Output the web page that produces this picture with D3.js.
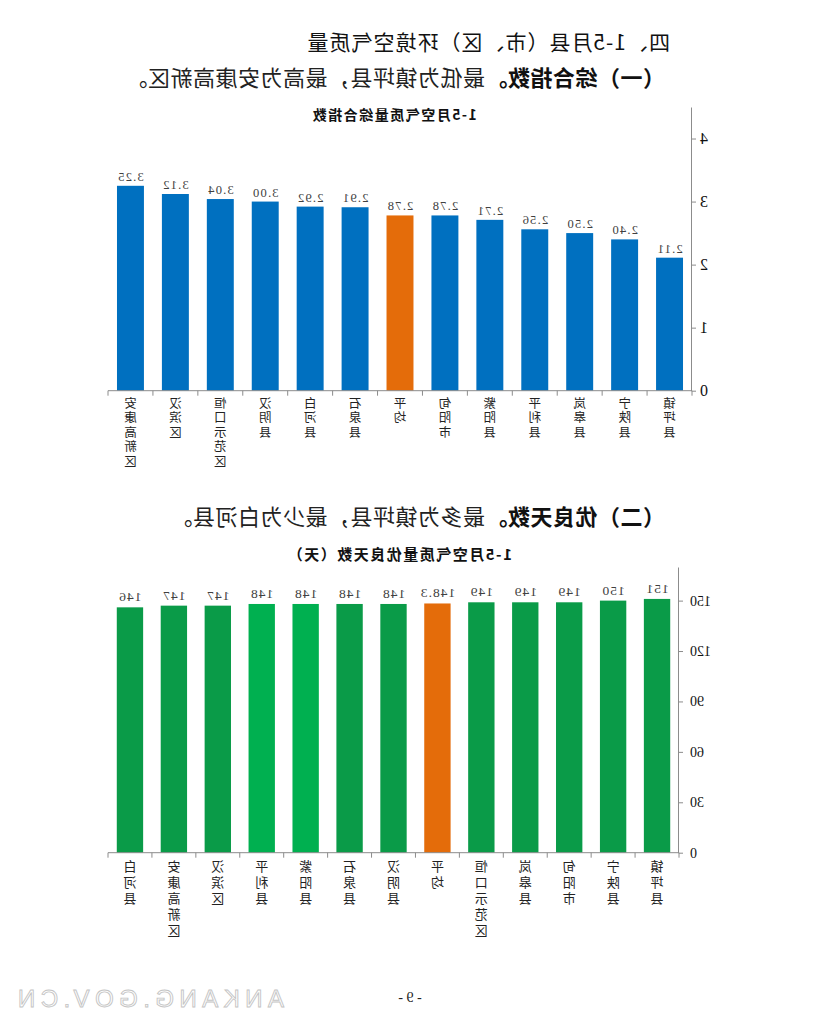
<!DOCTYPE html>
<html>
<head>
<meta charset="utf-8">
<script src="https://cdn.jsdelivr.net/npm/d3@7"></script>
<style>
  body { margin: 0; background: #fff; }
  svg { display: block; }
</style>
</head>
<body>
<div id="page"></div>
<script>
// dati: indice composito (gennaio-maggio)
var indexCats = ["镇坪县", "宁陕县", "岚皋县", "平利县", "紫阳县", "旬阳市", "平均", "石泉县", "白河县", "汉阴县", "恒口示范区", "汉滨区", "安康高新区"];
var indexVals = [2.11, 2.40, 2.50, 2.56, 2.71, 2.78, 2.78, 2.91, 2.92, 3.00, 3.04, 3.12, 3.25];
var indexTicks = [0, 1, 2, 3, 4];

// dati: giorni di buona qualità dell'aria
var daysCats = ["镇坪县", "宁陕县", "旬阳市", "岚皋县", "恒口示范区", "平均", "汉阴县", "石泉县", "紫阳县", "平利县", "汉滨区", "安康高新区", "白河县"];
var daysVals = [151, 150, 149, 149, 149, 148.3, 148, 148, 148, 148, 147, 147, 146];
var daysTicks = [0, 30, 60, 90, 120, 150];

var W = 827, H = 1025;
var cjk = "'Noto Sans CJK SC', 'Noto Sans', sans-serif";
var serif = "'Liberation Serif', 'DejaVu Serif', serif";

var svg = d3.select("#page").append("svg")
  .attr("width", W)
  .attr("height", H);

// la pagina di riferimento è specchiata orizzontalmente
var root = svg.append("g")
  .attr("transform", "translate(" + W + ",0) scale(-1,1)");

// titoli
root.append("text")
  .attr("x", 157).attr("y", 50)
  .attr("font-family", cjk).attr("font-size", 21)
  .attr("letter-spacing", 1)
  .attr("fill", "#111")
  .text("四、1-5月县（市、区）环境空气质量");

function subHeading(y, boldPart, rest) {
  var t = root.append("text")
    .attr("x", 162).attr("y", y)
    .attr("font-family", cjk).attr("font-size", 22)
    .attr("letter-spacing", 0.5)
    .attr("fill", "#111");
  t.append("tspan").attr("font-weight", "bold").text(boldPart);
  t.append("tspan").attr("fill", "#222").text(rest);
}
subHeading(86, "（一）综合指数。", "最低为镇坪县，最高为安康高新区。");
subHeading(525, "（二）优良天数。", "最多为镇坪县，最少为白河县。");

// funzione generica per disegnare un grafico a barre
function drawBars(opt) {
  var g = root.append("g");

  var x = d3.scaleBand()
    .domain(opt.cats)
    .range([opt.left, opt.right])
    .paddingInner(0.4)
    .paddingOuter(0.2);

  var y = d3.scaleLinear()
    .domain([0, opt.max])
    .range([opt.bottom, opt.top]);

  g.append("text")
    .attr("x", opt.titleX).attr("y", opt.titleY)
    .attr("text-anchor", "middle")
    .attr("font-family", cjk).attr("font-size", opt.titleSize)
    .attr("letter-spacing", 1.5)
    .attr("font-weight", "bold")
    .attr("fill", "#111")
    .text(opt.title);

  // barre
  g.selectAll("rect.bar")
    .data(opt.vals)
    .enter()
    .append("rect")
    .attr("class", "bar")
    .attr("x", function (d, i) { return x(opt.cats[i]); })
    .attr("y", function (d) { return y(d); })
    .attr("width", x.bandwidth())
    .attr("height", function (d) { return y(0) - y(d); })
    .attr("fill", function (d, i) { return opt.color(opt.cats[i]); });

  // etichette dei valori
  g.selectAll("text.val")
    .data(opt.vals)
    .enter()
    .append("text")
    .attr("class", "val")
    .attr("x", function (d, i) { return x(opt.cats[i]) + x.bandwidth() / 2; })
    .attr("y", function (d) { return y(d) - opt.valGap; })
    .attr("text-anchor", "middle")
    .attr("font-family", serif)
    .attr("font-size", opt.valSize)
    .attr("letter-spacing", opt.valSpacing)
    .attr("fill", "#404040")
    .text(function (d) { return opt.fmt(d); });

  // asse y
  var yAxis = g.append("g")
    .attr("transform", "translate(" + opt.left + ",0)")
    .call(d3.axisLeft(y)
      .tickValues(opt.ticks)
      .tickSize(4)
      .tickSizeOuter(0)
      .tickPadding(opt.tickPad)
      .tickFormat(d3.format("d")));
  yAxis.select(".domain").attr("stroke", "#8c8c8c");
  yAxis.selectAll(".tick line").attr("stroke", "#8c8c8c");
  yAxis.selectAll(".tick text")
    .attr("font-family", serif)
    .attr("font-size", opt.tickSize)
    .attr("fill", "#111");

  // asse x: linea di base e tacche tra le categorie
  g.append("line")
    .attr("x1", opt.left).attr("x2", opt.right)
    .attr("y1", y(0)).attr("y2", y(0))
    .attr("stroke", "#8c8c8c");
  g.selectAll("line.sep")
    .data(d3.range(opt.cats.length + 1))
    .enter()
    .append("line")
    .attr("class", "sep")
    .attr("x1", function (i) { return opt.left + i * x.step(); })
    .attr("x2", function (i) { return opt.left + i * x.step(); })
    .attr("y1", y(0)).attr("y2", y(0) + 5)
    .attr("stroke", "#8c8c8c");

  // nomi delle categorie in verticale, un carattere per riga
  var labels = g.selectAll("text.cat")
    .data(opt.cats)
    .enter()
    .append("text")
    .attr("class", "cat")
    .attr("text-anchor", "middle")
    .attr("font-family", cjk)
    .attr("font-size", opt.catSize)
    .attr("fill", "#222");
  labels.each(function (name) {
    var el = d3.select(this);
    var cx = x(name) + x.bandwidth() / 2;
    name.split("").forEach(function (ch, k) {
      el.append("tspan")
        .attr("x", cx)
        .attr("y", y(0) + opt.catFirst + k * opt.catLine)
        .text(ch);
    });
  });
}

drawBars({
  cats: indexCats, vals: indexVals, ticks: indexTicks, max: 4.5,
  left: 135, right: 719, top: 107, bottom: 390.7,
  title: "1-5月空气质量综合指数", titleX: 433, titleY: 120, titleSize: 14,
  color: function (c) { return c === "平均" ? "#E46C0A" : "#0070C0"; },
  fmt: d3.format(".2f"), valGap: 5, valSize: 12.5, valSpacing: 1.2,
  tickPad: 4, tickSize: 16,
  catSize: 12.5, catFirst: 17, catLine: 14.5
});

drawBars({
  cats: daysCats, vals: daysVals, ticks: daysTicks, max: 170,
  left: 148, right: 719, top: 567, bottom: 852.7,
  title: "1-5月空气质量优良天数（天）", titleX: 428, titleY: 560, titleSize: 15,
  color: function (c) {
    if (c === "平均") return "#E46C0A";
    if (c === "平利县" || c === "紫阳县") return "#00B050";
    return "#0A9B48";
  },
  fmt: function (d) { return String(d); }, valGap: 6, valSize: 13.5, valSpacing: 1,
  tickPad: 7, tickSize: 14,
  catSize: 13, catFirst: 18, catLine: 16
});

// piè di pagina
root.append("text")
  .attr("x", 417).attr("y", 1002)
  .attr("text-anchor", "middle")
  .attr("font-family", serif).attr("font-size", 14)
  .attr("fill", "#222")
  .text("- 9 -");

root.append("text")
  .attr("x", 543).attr("y", 1007)
  .attr("font-family", "'Liberation Sans', sans-serif")
  .attr("font-size", 24)
  .attr("textLength", 266)
  .attr("lengthAdjust", "spacing")
  .attr("fill", "#fff")
  .attr("stroke", "#c4c4c4")
  .attr("stroke-width", 0.9)
  .text("ANKANG.GOV.CN");
</script>
</body>
</html>
